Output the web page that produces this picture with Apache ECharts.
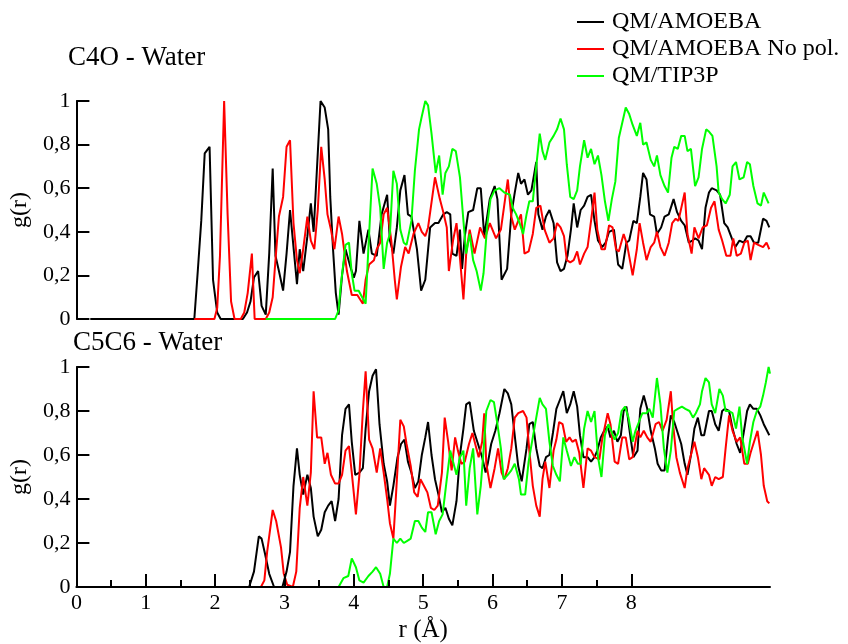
<!DOCTYPE html>
<html>
<head>
<meta charset="utf-8">
<title>g(r) C4O / C5C6 - Water</title>
<script src="https://cdn.jsdelivr.net/npm/echarts@6/dist/echarts.min.js"></script>
<style>
  html, body { margin: 0; padding: 0; background: #fff; }
  #chart { width: 848px; height: 644px; }
</style>
</head>
<body>
<div id="chart"></div>
<script>
// series names and y tick labels
var seriesNames = ["QM/AMOEBA", "QM/AMOEBA No pol.", "QM/TIP3P"];
var yTickLabels = ["0", "0,2", "0,4", "0,6", "0,8", "1"];
var xTickValues = [0, 1, 2, 3, 4, 5, 6, 7, 8];
var xMinorTickValues = [0.5, 1.5, 2.5, 3.5, 4.5, 5.5, 6.5, 7.5];

// C4O - Water, [r, g(r)]
var c4oAmoeba = [[0.2,0],[1.70,0],[1.75,0.22],[1.80,0.45],[1.85,0.76],[1.92,0.79],[1.97,0.18],[2.03,0.03],[2.08,0],[2.40,0],[2.46,0.03],[2.51,0.08],[2.56,0.19],[2.62,0.22],[2.67,0.06],[2.73,0.02],[2.78,0.30],[2.83,0.69],[2.87,0.29],[2.92,0.22],[2.98,0.13],[3.03,0.30],[3.08,0.50],[3.13,0.33],[3.18,0.16],[3.22,0.32],[3.27,0.22],[3.33,0.38],[3.38,0.53],[3.42,0.40],[3.47,0.70],[3.52,1.0],[3.58,0.97],[3.63,0.87],[3.66,0.56],[3.70,0.32],[3.74,0.12],[3.78,0.02],[3.83,0.20],[3.88,0.32],[3.95,0.24],[4.00,0.19],[4.03,0.22],[4.08,0.45],[4.14,0.30],[4.21,0.41],[4.26,0.30],[4.33,0.29],[4.40,0.48],[4.48,0.57],[4.52,0.36],[4.57,0.30],[4.62,0.42],[4.67,0.59],[4.73,0.66],[4.78,0.48],[4.83,0.47],[4.91,0.32],[4.97,0.13],[5.03,0.18],[5.10,0.42],[5.17,0.44],[5.22,0.44],[5.29,0.48],[5.34,0.49],[5.39,0.48],[5.42,0.30],[5.48,0.29],[5.53,0.41],[5.56,0.23],[5.60,0.38],[5.65,0.49],[5.72,0.50],[5.78,0.60],[5.83,0.60],[5.88,0.38],[5.96,0.55],[6.03,0.61],[6.07,0.55],[6.13,0.18],[6.21,0.23],[6.27,0.48],[6.32,0.58],[6.37,0.67],[6.41,0.62],[6.46,0.64],[6.51,0.57],[6.56,0.59],[6.63,0.72],[6.66,0.48],[6.72,0.41],[6.77,0.47],[6.82,0.50],[6.88,0.44],[6.93,0.26],[6.98,0.22],[7.03,0.23],[7.08,0.29],[7.13,0.41],[7.17,0.53],[7.22,0.42],[7.27,0.50],[7.32,0.52],[7.37,0.56],[7.42,0.57],[7.47,0.45],[7.52,0.36],[7.58,0.33],[7.63,0.35],[7.68,0.40],[7.75,0.41],[7.81,0.25],[7.87,0.23],[7.93,0.35],[7.97,0.36],[8.03,0.45],[8.08,0.44],[8.13,0.56],[8.17,0.67],[8.22,0.64],[8.27,0.48],[8.33,0.47],[8.37,0.39],[8.43,0.42],[8.48,0.47],[8.54,0.48],[8.61,0.55],[8.66,0.49],[8.72,0.45],[8.77,0.43],[8.83,0.35],[8.88,0.36],[8.92,0.37],[8.97,0.36],[9.02,0.32],[9.07,0.51],[9.12,0.58],[9.16,0.60],[9.23,0.59],[9.28,0.57],[9.34,0.44],[9.39,0.42],[9.45,0.37],[9.50,0.33],[9.56,0.36],[9.62,0.35],[9.67,0.38],[9.72,0.38],[9.77,0.35],[9.83,0.35],[9.90,0.46],[9.95,0.45],[9.99,0.42]];
var c4oNoPol = [[1.70,0],[1.99,0],[2.03,0.05],[2.07,0.29],[2.13,1.0],[2.18,0.48],[2.23,0.08],[2.28,0],[2.37,0],[2.42,0.03],[2.47,0.12],[2.53,0.30],[2.57,0],[2.73,0],[2.78,0.03],[2.83,0.10],[2.87,0.27],[2.92,0.47],[2.98,0.56],[3.03,0.79],[3.08,0.82],[3.13,0.44],[3.18,0.27],[3.22,0.21],[3.27,0.32],[3.33,0.47],[3.38,0.36],[3.43,0.32],[3.48,0.50],[3.53,0.79],[3.58,0.64],[3.62,0.48],[3.67,0.41],[3.72,0.32],[3.78,0.47],[3.83,0.39],[3.90,0.22],[3.97,0.11],[4.05,0.11],[4.13,0.07],[4.17,0.18],[4.22,0.25],[4.29,0.27],[4.33,0.32],[4.38,0.35],[4.43,0.48],[4.48,0.51],[4.54,0.36],[4.59,0.18],[4.62,0.09],[4.68,0.24],[4.74,0.33],[4.79,0.30],[4.86,0.39],[4.93,0.44],[4.98,0.40],[5.03,0.38],[5.07,0.42],[5.17,0.65],[5.24,0.55],[5.29,0.49],[5.34,0.42],[5.37,0.22],[5.43,0.36],[5.48,0.44],[5.53,0.28],[5.58,0.09],[5.62,0.30],[5.67,0.41],[5.74,0.30],[5.82,0.42],[5.89,0.37],[5.96,0.44],[6.05,0.37],[6.12,0.41],[6.22,0.64],[6.27,0.47],[6.32,0.41],[6.37,0.45],[6.41,0.48],[6.46,0.30],[6.52,0.31],[6.58,0.39],[6.63,0.51],[6.69,0.52],[6.75,0.41],[6.82,0.35],[6.88,0.37],[6.93,0.44],[6.98,0.42],[7.03,0.38],[7.07,0.27],[7.12,0.26],[7.17,0.27],[7.22,0.31],[7.26,0.25],[7.32,0.30],[7.37,0.33],[7.42,0.45],[7.47,0.58],[7.51,0.41],[7.57,0.32],[7.62,0.32],[7.68,0.43],[7.73,0.42],[7.78,0.32],[7.82,0.31],[7.89,0.39],[7.94,0.34],[8.02,0.20],[8.08,0.32],[8.12,0.44],[8.17,0.35],[8.22,0.27],[8.28,0.33],[8.33,0.35],[8.37,0.40],[8.42,0.33],[8.48,0.29],[8.54,0.35],[8.59,0.44],[8.64,0.46],[8.68,0.45],[8.77,0.58],[8.81,0.39],[8.87,0.30],[8.91,0.42],[8.97,0.37],[9.03,0.42],[9.09,0.43],[9.15,0.51],[9.20,0.54],[9.26,0.41],[9.31,0.36],[9.37,0.29],[9.43,0.29],[9.47,0.37],[9.52,0.29],[9.58,0.30],[9.63,0.35],[9.68,0.36],[9.72,0.27],[9.77,0.35],[9.83,0.34],[9.90,0.33],[9.95,0.35],[9.99,0.32]];
var c4oTip3p = [[2.73,0],[3.73,0],[3.78,0.04],[3.81,0.15],[3.88,0.34],[3.93,0.35],[3.97,0.21],[4.01,0.13],[4.07,0.13],[4.12,0.10],[4.17,0.07],[4.22,0.39],[4.27,0.69],[4.33,0.62],[4.38,0.51],[4.43,0.23],[4.48,0.35],[4.52,0.39],[4.57,0.68],[4.62,0.62],[4.67,0.41],[4.72,0.35],[4.76,0.34],[4.83,0.45],[4.88,0.68],[4.94,0.87],[4.98,0.93],[5.03,1.0],[5.07,0.98],[5.12,0.85],[5.18,0.67],[5.23,0.75],[5.28,0.57],[5.32,0.67],[5.37,0.70],[5.42,0.78],[5.47,0.77],[5.53,0.65],[5.58,0.45],[5.62,0.30],[5.67,0.39],[5.72,0.27],[5.77,0.22],[5.83,0.13],[5.87,0.21],[5.92,0.42],[5.97,0.55],[6.03,0.59],[6.10,0.60],[6.17,0.58],[6.25,0.57],[6.29,0.51],[6.34,0.48],[6.39,0.44],[6.44,0.39],[6.49,0.48],[6.53,0.54],[6.58,0.54],[6.63,0.70],[6.68,0.85],[6.72,0.77],[6.76,0.73],[6.82,0.81],[6.88,0.84],[6.93,0.87],[6.98,0.92],[7.03,0.87],[7.07,0.71],[7.12,0.56],[7.17,0.55],[7.22,0.59],[7.26,0.70],[7.32,0.82],[7.37,0.74],[7.42,0.78],[7.47,0.71],[7.52,0.75],[7.57,0.66],[7.62,0.54],[7.67,0.45],[7.72,0.55],[7.77,0.63],[7.82,0.83],[7.87,0.90],[7.92,0.97],[7.97,0.94],[8.02,0.89],[8.08,0.84],[8.13,0.90],[8.17,0.80],[8.22,0.81],[8.28,0.73],[8.33,0.70],[8.37,0.75],[8.42,0.66],[8.48,0.61],[8.53,0.58],[8.58,0.74],[8.62,0.79],[8.67,0.78],[8.72,0.84],[8.77,0.84],[8.81,0.77],[8.86,0.78],[8.92,0.61],[8.97,0.65],[9.02,0.78],[9.08,0.87],[9.12,0.86],[9.17,0.84],[9.23,0.70],[9.26,0.58],[9.31,0.55],[9.36,0.53],[9.42,0.57],[9.46,0.70],[9.51,0.72],[9.56,0.64],[9.62,0.65],[9.67,0.72],[9.71,0.71],[9.76,0.61],[9.82,0.53],[9.87,0.52],[9.91,0.58],[9.98,0.53]];

// C5C6 - Water, [r, g(r)]
var c5c6Amoeba = [[0,0],[2.49,0],[2.56,0.07],[2.63,0.23],[2.67,0.22],[2.72,0.15],[2.78,0.06],[2.85,0],[2.97,0],[3.03,0.07],[3.08,0.16],[3.13,0.46],[3.18,0.63],[3.22,0.51],[3.27,0.42],[3.33,0.51],[3.38,0.45],[3.42,0.32],[3.48,0.23],[3.53,0.26],[3.58,0.34],[3.63,0.37],[3.68,0.39],[3.73,0.30],[3.78,0.40],[3.83,0.69],[3.88,0.81],[3.93,0.83],[3.97,0.66],[4.02,0.51],[4.08,0.52],[4.13,0.54],[4.17,0.72],[4.22,0.89],[4.27,0.96],[4.32,0.99],[4.37,0.74],[4.43,0.56],[4.48,0.48],[4.52,0.37],[4.57,0.46],[4.63,0.59],[4.68,0.65],[4.73,0.67],[4.78,0.57],[4.83,0.52],[4.88,0.45],[4.93,0.48],[4.98,0.60],[5.03,0.68],[5.07,0.75],[5.12,0.60],[5.17,0.49],[5.22,0.42],[5.27,0.34],[5.32,0.36],[5.37,0.31],[5.42,0.28],[5.48,0.39],[5.53,0.60],[5.58,0.72],[5.62,0.83],[5.67,0.84],[5.73,0.71],[5.79,0.65],[5.85,0.59],[5.90,0.52],[5.93,0.56],[5.98,0.65],[6.04,0.71],[6.10,0.79],[6.17,0.90],[6.22,0.88],[6.27,0.83],[6.33,0.66],[6.37,0.55],[6.42,0.48],[6.49,0.63],[6.53,0.74],[6.58,0.75],[6.63,0.63],[6.68,0.55],[6.72,0.54],[6.77,0.59],[6.82,0.60],[6.87,0.70],[6.92,0.81],[6.97,0.85],[7.02,0.89],[7.07,0.79],[7.12,0.83],[7.17,0.89],[7.22,0.82],[7.26,0.69],[7.31,0.59],[7.37,0.59],[7.42,0.57],[7.47,0.59],[7.51,0.62],[7.56,0.68],[7.61,0.71],[7.66,0.73],[7.70,0.68],[7.75,0.71],[7.80,0.66],[7.85,0.69],[7.89,0.80],[7.93,0.82],[7.98,0.70],[8.03,0.59],[8.09,0.62],[8.13,0.81],[8.18,0.87],[8.23,0.81],[8.28,0.71],[8.34,0.63],[8.38,0.56],[8.43,0.53],[8.48,0.53],[8.53,0.68],[8.57,0.78],[8.62,0.75],[8.67,0.70],[8.72,0.65],[8.77,0.56],[8.81,0.51],[8.86,0.60],[8.91,0.72],[8.96,0.77],[9.01,0.69],[9.05,0.69],[9.12,0.80],[9.16,0.80],[9.21,0.74],[9.26,0.71],[9.31,0.80],[9.35,0.81],[9.41,0.80],[9.46,0.72],[9.52,0.65],[9.57,0.61],[9.62,0.70],[9.67,0.80],[9.71,0.83],[9.76,0.81],[9.81,0.81],[9.86,0.78],[9.91,0.74],[9.99,0.69]];
var c5c6NoPol = [[0,0],[2.66,0],[2.71,0.03],[2.75,0.16],[2.83,0.35],[2.88,0.30],[2.95,0.18],[2.99,0.06],[3.04,0.01],[3.12,0],[3.17,0.07],[3.22,0.36],[3.27,0.50],[3.33,0.37],[3.38,0.52],[3.42,0.89],[3.47,0.68],[3.53,0.68],[3.58,0.56],[3.62,0.61],[3.67,0.51],[3.73,0.47],[3.78,0.47],[3.83,0.51],[3.88,0.62],[3.93,0.64],[3.97,0.52],[4.03,0.33],[4.08,0.51],[4.13,0.80],[4.17,0.98],[4.22,0.67],[4.27,0.63],[4.33,0.52],[4.38,0.63],[4.43,0.52],[4.48,0.40],[4.52,0.29],[4.57,0.22],[4.61,0.43],[4.67,0.76],[4.72,0.73],[4.76,0.65],[4.82,0.55],[4.87,0.43],[4.92,0.41],[4.96,0.49],[5.01,0.46],[5.06,0.43],[5.11,0.36],[5.16,0.35],[5.21,0.37],[5.27,0.52],[5.31,0.77],[5.36,0.66],[5.41,0.53],[5.46,0.68],[5.50,0.62],[5.55,0.56],[5.60,0.57],[5.66,0.65],[5.71,0.70],[5.75,0.65],[5.80,0.59],[5.85,0.66],[5.88,0.79],[5.91,0.56],[5.97,0.45],[6.03,0.54],[6.08,0.63],[6.13,0.52],[6.17,0.49],[6.22,0.54],[6.27,0.63],[6.32,0.77],[6.37,0.79],[6.44,0.80],[6.49,0.77],[6.53,0.62],[6.58,0.46],[6.63,0.37],[6.68,0.32],[6.72,0.49],[6.76,0.57],[6.82,0.45],[6.88,0.62],[6.92,0.67],[6.96,0.75],[7.01,0.74],[7.06,0.66],[7.11,0.68],[7.15,0.66],[7.20,0.67],[7.25,0.61],[7.31,0.45],[7.37,0.63],[7.42,0.62],[7.47,0.59],[7.54,0.58],[7.58,0.67],[7.66,0.79],[7.70,0.74],[7.76,0.57],[7.81,0.56],[7.87,0.68],[7.92,0.68],[7.97,0.58],[8.02,0.59],[8.09,0.71],[8.13,0.68],[8.18,0.71],[8.23,0.68],[8.28,0.66],[8.35,0.74],[8.40,0.75],[8.45,0.71],[8.51,0.76],[8.57,0.89],[8.60,0.75],[8.65,0.59],[8.70,0.52],[8.77,0.45],[8.81,0.54],[8.86,0.60],[8.91,0.66],[8.96,0.59],[9.01,0.49],[9.05,0.54],[9.12,0.51],[9.16,0.46],[9.21,0.50],[9.26,0.49],[9.32,0.50],[9.36,0.63],[9.41,0.78],[9.46,0.71],[9.52,0.66],[9.57,0.68],[9.63,0.56],[9.68,0.56],[9.72,0.61],[9.77,0.66],[9.82,0.71],[9.87,0.60],[9.91,0.46],[9.96,0.39],[9.99,0.38]];
var c5c6Tip3p = [[0,0],[3.78,0],[3.85,0.04],[3.92,0.05],[3.97,0.13],[4.03,0.09],[4.08,0.03],[4.14,0.02],[4.21,0.05],[4.27,0.07],[4.32,0.09],[4.38,0.06],[4.43,0],[4.48,0],[4.52,0.06],[4.57,0.22],[4.62,0.20],[4.67,0.22],[4.72,0.20],[4.77,0.21],[4.82,0.22],[4.88,0.30],[4.93,0.30],[4.98,0.27],[5.03,0.25],[5.07,0.34],[5.12,0.34],[5.18,0.24],[5.23,0.30],[5.28,0.33],[5.34,0.49],[5.39,0.62],[5.43,0.57],[5.48,0.51],[5.53,0.59],[5.58,0.62],[5.62,0.37],[5.67,0.54],[5.72,0.63],[5.78,0.33],[5.83,0.46],[5.87,0.62],[5.91,0.80],[5.97,0.85],[6.02,0.84],[6.07,0.74],[6.12,0.63],[6.16,0.49],[6.22,0.51],[6.27,0.53],[6.32,0.56],[6.38,0.49],[6.41,0.42],[6.47,0.42],[6.52,0.57],[6.58,0.68],[6.63,0.77],[6.68,0.86],[6.72,0.83],[6.77,0.81],[6.82,0.66],[6.87,0.55],[6.92,0.51],[6.97,0.48],[7.02,0.68],[7.07,0.62],[7.13,0.55],[7.18,0.59],[7.23,0.56],[7.27,0.56],[7.32,0.72],[7.37,0.80],[7.42,0.75],[7.47,0.80],[7.52,0.59],[7.57,0.50],[7.62,0.69],[7.67,0.74],[7.71,0.71],[7.76,0.67],[7.81,0.70],[7.86,0.80],[7.91,0.82],[7.96,0.77],[8.02,0.66],[8.06,0.71],[8.11,0.75],[8.16,0.79],[8.22,0.79],[8.26,0.81],[8.31,0.77],[8.37,0.95],[8.42,0.83],[8.47,0.63],[8.52,0.52],[8.57,0.62],[8.62,0.80],[8.67,0.81],[8.73,0.82],[8.78,0.81],[8.84,0.80],[8.89,0.77],[8.93,0.79],[8.99,0.83],[9.02,0.89],[9.07,0.95],[9.12,0.93],[9.16,0.83],[9.21,0.79],[9.27,0.90],[9.32,0.87],[9.36,0.80],[9.41,0.80],[9.46,0.79],[9.51,0.72],[9.56,0.82],[9.60,0.68],[9.67,0.56],[9.71,0.66],[9.76,0.75],[9.81,0.80],[9.86,0.82],[9.90,0.87],[9.94,0.93],[9.98,1.0],[10.0,0.97]];

var colors = ["#000000", "#ff0000", "#00ff00"];
var serif = "Liberation Serif";

var myChart = echarts.init(document.getElementById("chart"));

function yAxisFor(gridIndex) {
  return {
    type: "value",
    gridIndex: gridIndex,
    min: 0,
    max: 1,
    interval: 0.2,
    name: "g(r)",
    nameLocation: "middle",
    nameGap: 44,
    nameTextStyle: { fontFamily: serif, fontSize: 24, color: "#000" },
    axisLine: { show: true, lineStyle: { color: "#000", width: 2 } },
    axisTick: { show: true, inside: true, length: 13, lineStyle: { color: "#000", width: 2 } },
    axisLabel: {
      margin: 6,
      fontFamily: serif,
      fontSize: 22,
      color: "#000",
      formatter: function (v) { return yTickLabels[Math.round(v * 5)]; }
    },
    splitLine: { show: false }
  };
}

function lineSeries(name, idx, xi, yi, data) {
  return {
    name: name,
    type: "line",
    xAxisIndex: xi,
    yAxisIndex: yi,
    data: data,
    showSymbol: false,
    symbol: "none",
    clip: false,
    lineStyle: { color: colors[idx], width: 2 },
    itemStyle: { color: colors[idx] }
  };
}

var option = {
  animation: false,
  backgroundColor: "#fff",
  // 标题
  title: [
    { text: "C4O - Water", left: 68, top: 44, padding: 0,
      textStyle: { fontFamily: serif, fontSize: 27, fontWeight: "normal", color: "#000" } },
    { text: "C5C6 - Water", left: 73, top: 329, padding: 0,
      textStyle: { fontFamily: serif, fontSize: 27, fontWeight: "normal", color: "#000" } }
  ],
  // 图例
  legend: {
    orient: "vertical",
    left: 572,
    top: 5,
    icon: "rect",
    itemWidth: 27,
    itemHeight: 2,
    itemGap: 3,
    data: seriesNames,
    textStyle: { fontFamily: serif, fontSize: 24, color: "#000", lineHeight: 24, padding: [0, 0, 0, 3] }
  },
  grid: [
    { left: 74, right: 78, top: 101, height: 218 },
    { left: 74, right: 78, top: 367, height: 220 }
  ],
  xAxis: [
    { type: "value", gridIndex: 0, min: 0, max: 10, show: false },
    {
      type: "value", gridIndex: 1, min: 0, max: 10, interval: 1, z: 5,
      name: "r (Å)", nameLocation: "middle", nameGap: 31,
      nameTextStyle: { fontFamily: serif, fontSize: 25, color: "#000" },
      axisLine: { show: true, lineStyle: { color: "#000", width: 2 } },
      axisTick: { show: true, inside: true, length: 13, customValues: xTickValues,
        lineStyle: { color: "#000", width: 2 } },
      axisLabel: { customValues: xTickValues, margin: 5, fontFamily: serif, fontSize: 22, color: "#000" },
      splitLine: { show: false }
    },
    {
      type: "value", gridIndex: 1, min: 0, max: 10, position: "bottom", z: 5,
      axisLine: { show: false },
      axisTick: { show: true, inside: true, length: 7, customValues: xMinorTickValues,
        lineStyle: { color: "#000", width: 2 } },
      axisLabel: { show: false },
      splitLine: { show: false }
    }
  ],
  yAxis: [yAxisFor(0), yAxisFor(1)],
  series: [
    lineSeries(seriesNames[0], 0, 0, 0, c4oAmoeba),
    lineSeries(seriesNames[1], 1, 0, 0, c4oNoPol),
    lineSeries(seriesNames[2], 2, 0, 0, c4oTip3p),
    lineSeries(seriesNames[0], 0, 1, 1, c5c6Amoeba),
    lineSeries(seriesNames[1], 1, 1, 1, c5c6NoPol),
    lineSeries(seriesNames[2], 2, 1, 1, c5c6Tip3p)
  ]
};

myChart.setOption(option);
</script>
</body>
</html>
